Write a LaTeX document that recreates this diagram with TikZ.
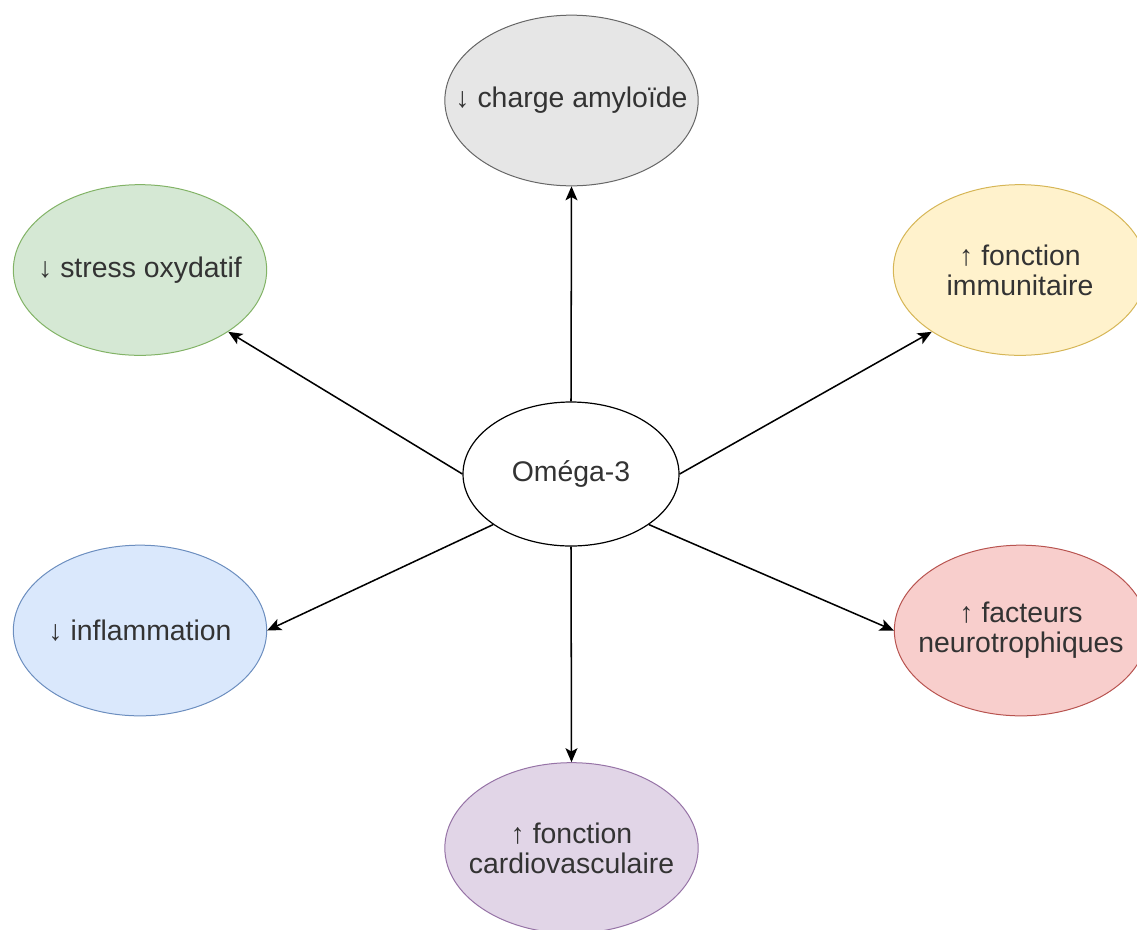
\documentclass[tikz,border=0pt]{standalone}
\usepackage{fontspec}
\setmainfont{Liberation Sans}
\usepackage{tikz}
\usetikzlibrary{shapes,arrows.meta}

\definecolor{greyfill}{HTML}{E6E6E6}
\definecolor{greyline}{HTML}{666666}
\definecolor{greenfill}{HTML}{D5E8D4}
\definecolor{greenline}{HTML}{82B366}
\definecolor{yellowfill}{HTML}{FFF2CC}
\definecolor{yellowline}{HTML}{D6B656}
\definecolor{bluefill}{HTML}{DAE8FC}
\definecolor{blueline}{HTML}{6C8EBF}
\definecolor{redfill}{HTML}{F8CECC}
\definecolor{redline}{HTML}{B85450}
\definecolor{purplefill}{HTML}{E1D5E7}
\definecolor{purpleline}{HTML}{9673A6}
\definecolor{textgrey}{HTML}{333333}

\begin{document}
\begin{tikzpicture}
[x=0.75pt,y=-0.75pt]
\tikzset{
	source/.style = {ellipse, draw, line width=0.9pt, fill=white, minimum width=162pt, minimum height=108pt, inner sep=0pt},
	effect/.style = {ellipse, draw, line width=0.75pt, minimum width=190pt, minimum height=128pt, inner sep=0pt},
	link/.style = {-{Stealth[length=10.5pt,width=9pt,inset=2.5pt]}, line width=1.15pt},
	every label/.style = {font=\fontsize{21.3}{22.5}\selectfont, text=textgrey, align=center}
}
\useasboundingbox (0,0) rectangle (1137,929);

\node(omega) [source, label=center:{Oméga-3}] at (571,474) {};

\node(amyl) [effect, fill=greyfill, draw=greyline, label=center:{↓ charge amyloïde}] at (571.5,100.5) {};
\node(stress) [effect, fill=greenfill, draw=greenline, label=center:{↓ stress oxydatif}] at (140,270) {};
\node(immun) [effect, fill=yellowfill, draw=yellowline, label=center:{↑ fonction\\immunitaire}] at (1020,270) {};
\node(inflam) [effect, fill=bluefill, draw=blueline, label=center:{↓ inflammation}] at (140,630.5) {};
\node(neuro) [effect, fill=redfill, draw=redline, label=center:{↑ facteurs\\neurotrophiques}] at (1021,630.5) {};
\node(cardio) [effect, fill=purplefill, draw=purpleline, label=center:{↑ fonction\\cardiovasculaire}] at (571.5,848) {};

\path[link]
 (omega.north) edge (amyl.south)
 (omega.west) edge (stress.-35)
 (omega.east) edge (immun.215)
 (omega.213) edge (inflam.east)
 (omega.-33) edge (neuro.west)
 (omega.south) edge (cardio.north)
 ;
\end{tikzpicture}
\end{document}
